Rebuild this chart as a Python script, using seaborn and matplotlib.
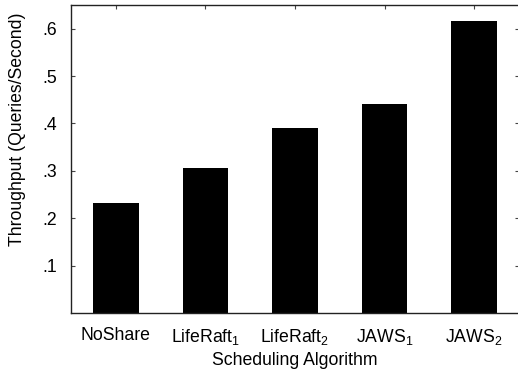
import matplotlib
matplotlib.use("Agg")
import matplotlib.pyplot as plt
import seaborn as sns
import pandas as pd

# Measured throughput per scheduling algorithm
algorithms = ["NoShare", "LifeRaft$_1$", "LifeRaft$_2$", "JAWS$_1$", "JAWS$_2$"]
throughput = [0.232, 0.306, 0.390, 0.441, 0.617]
y_ticks = [0.1, 0.2, 0.3, 0.4, 0.5, 0.6]
y_tick_labels = [".1", ".2", ".3", ".4", ".5", ".6"]

sns.set_theme(style="white")
plt.rcParams["font.family"] = ["Liberation Sans", "DejaVu Sans"]
plt.rcParams["mathtext.fontset"] = "custom"
plt.rcParams["mathtext.rm"] = "Liberation Sans"
plt.rcParams["mathtext.default"] = "regular"
plt.rcParams["text.color"] = "black"
plt.rcParams["axes.labelcolor"] = "black"

df = pd.DataFrame({"algorithm": algorithms, "throughput": throughput})

W, H = 518, 374
fig = plt.figure(figsize=(W / 100, H / 100), dpi=100)
# the frame's right edge sits just past the canvas edge
ax = fig.add_axes([71 / W, (H - 313) / H, (519 - 71) / W, (313 - 5) / H])

sns.barplot(data=df, x="algorithm", y="throughput", color="black",
            saturation=1, width=0.51, linewidth=0, ax=ax)

ax.set_xlim(-0.5, 4.5)
ax.set_ylim(0, 0.65)
ax.set_yticks(y_ticks)
ax.set_yticklabels(y_tick_labels)

fs = 12.7
ax.tick_params(axis="both", which="both", direction="in", length=3,
               width=0.8, color="#444444", labelcolor="black", labelsize=fs,
               top=True, right=True, bottom=True, left=True)
ax.tick_params(axis="x", pad=10)
ax.tick_params(axis="y", pad=10)

ax.set_xlabel("Scheduling Algorithm", fontsize=fs, labelpad=4)
ax.set_ylabel("Throughput (Queries/Second)", fontsize=fs)
ax.yaxis.set_label_coords(-0.1, 0.597)

for s in ax.spines.values():
    s.set_visible(True)
    s.set_color("#222222")
    s.set_linewidth(1.0)

fig.savefig("out.png", dpi=100)
